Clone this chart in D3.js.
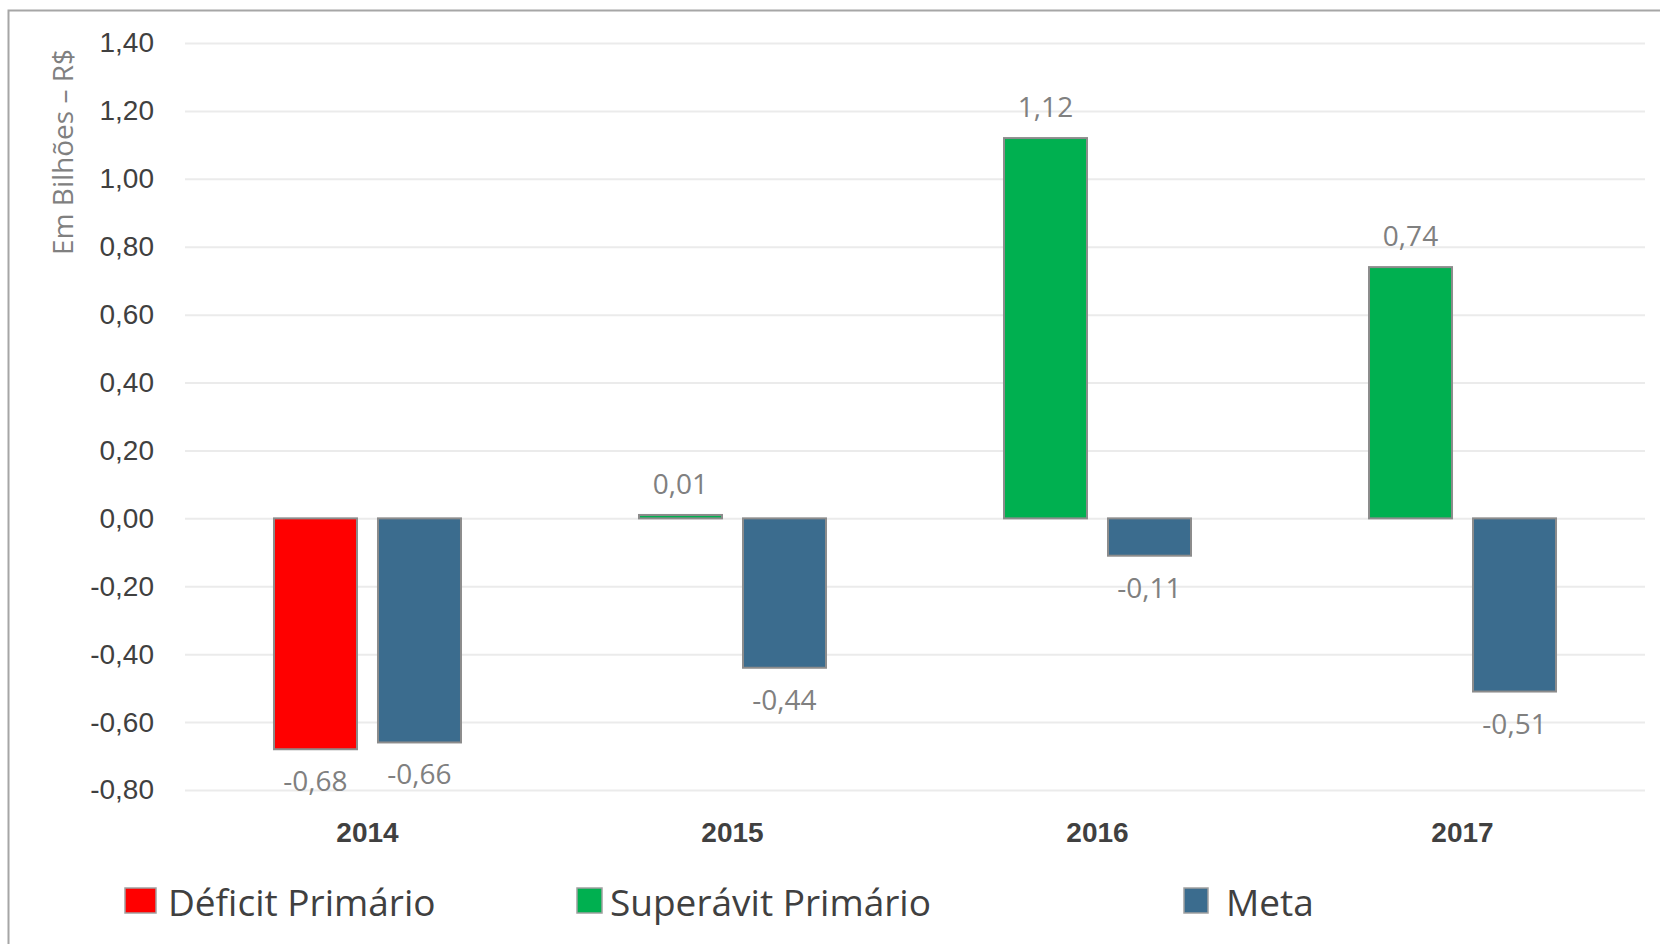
<!DOCTYPE html>
<html>
<head>
<meta charset="utf-8">
<script src="https://cdn.jsdelivr.net/npm/d3@7"></script>
<style>
  body { margin: 0; background: #fff; }
  svg { display: block; font-family: "Open Sans", sans-serif; }
</style>
</head>
<body>
<svg id="chart" width="1660" height="944"></svg>
<script>
// data
const years = ["2014", "2015", "2016", "2017"];
const deficit = [-0.68, null, null, null];
const superavit = [null, 0.01, 1.12, 0.74];
const meta = [-0.66, -0.44, -0.11, -0.51];
const yTicks = [-0.8, -0.6, -0.4, -0.2, 0, 0.2, 0.4, 0.6, 0.8, 1.0, 1.2, 1.4];
const legendLabels = ["Déficit Primário", "Superávit Primário", "Meta"];

const colors = { deficit: "#ff0000", superavit: "#00b050", meta: "#3b6c8e" };

const ptBR = d3.formatLocale({ decimal: ",", thousands: ".", grouping: [3], currency: ["R$", ""], minus: "-" });
const fmt = ptBR.format(".2f");

const svg = d3.select("svg#chart");

// chart frame
svg.append("rect")
  .attr("x", 8.5).attr("y", 10.5)
  .attr("width", 1700).attr("height", 1000)
  .attr("fill", "none")
  .attr("stroke", "#a6a6a6")
  .attr("stroke-width", 2);

const plot = { left: 185, right: 1645, top: 43, bottom: 790 };

const x = d3.scaleBand().domain(years).range([plot.left, plot.right])
  .paddingInner(0.4877).paddingOuter(0.2438);
const xs = d3.scaleBand().domain(["main", "meta"]).range([0, x.bandwidth()])
  .paddingInner(0.202);
const y = d3.scaleLinear().domain([-0.8, 1.4]).range([plot.bottom, plot.top]);

// y axis + gridlines
const yAxis = svg.append("g")
  .attr("transform", `translate(${plot.left},0)`)
  .call(d3.axisLeft(y).tickValues(yTicks).tickFormat(fmt)
    .tickSizeInner(-(plot.right - plot.left)).tickSizeOuter(0).tickPadding(31));
yAxis.select(".domain").remove();
yAxis.selectAll(".tick line").attr("stroke", "#ebebeb").attr("stroke-width", 2);
yAxis.selectAll(".tick text")
  .attr("fill", "#404040")
  .style("font-size", "28px");

svg.append("text")
  .attr("transform", "translate(73,152) rotate(-90)")
  .attr("text-anchor", "middle")
  .attr("fill", "#808080")
  .style("font-size", "28px")
  .text("Em Bilhões – R$");

// x axis (category labels)
const xAxis = svg.append("g")
  .attr("transform", `translate(0,${plot.bottom})`)
  .call(d3.axisBottom(x).tickSize(0));
xAxis.select(".domain").remove();
xAxis.selectAll(".tick text")
  .attr("dy", null)
  .attr("y", 52)
  .attr("fill", "#404040")
  .style("font-size", "28px")
  .style("font-weight", "bold");

// bars
const rows = [];
years.forEach((yr, i) => {
  if (deficit[i] != null) rows.push({ year: yr, slot: "main", value: deficit[i], color: colors.deficit });
  if (superavit[i] != null) rows.push({ year: yr, slot: "main", value: superavit[i], color: colors.superavit });
  rows.push({ year: yr, slot: "meta", value: meta[i], color: colors.meta });
});

svg.append("g").selectAll("rect")
  .data(rows)
  .join("rect")
  .attr("x", d => x(d.year) + xs(d.slot))
  .attr("y", d => y(Math.max(0, d.value)))
  .attr("width", xs.bandwidth())
  .attr("height", d => Math.abs(y(d.value) - y(0)))
  .attr("fill", d => d.color)
  .attr("stroke", "#8c8c8c")
  .attr("stroke-width", 2);

svg.append("g").selectAll("text")
  .data(rows)
  .join("text")
  .attr("x", d => x(d.year) + xs(d.slot) + xs.bandwidth() / 2)
  .attr("y", d => d.value >= 0 ? y(d.value) - 21 : y(d.value) + 42)
  .attr("text-anchor", "middle")
  .attr("fill", "#808080")
  .style("font-size", "28px")
  .text(d => fmt(d.value));

// legend
const legendItems = [
  { label: legendLabels[0], color: colors.deficit, x: 125, w: 31, tx: 168 },
  { label: legendLabels[1], color: colors.superavit, x: 577, w: 25, tx: 610 },
  { label: legendLabels[2], color: colors.meta, x: 1184, w: 24, tx: 1226 }
];
const legend = svg.append("g").selectAll("g")
  .data(legendItems)
  .join("g");
legend.append("rect")
  .attr("x", d => d.x).attr("y", 888)
  .attr("width", d => d.w).attr("height", 25)
  .attr("fill", d => d.color)
  .attr("stroke", "#a0a0a0")
  .attr("stroke-width", 1.5);
legend.append("text")
  .attr("x", d => d.tx).attr("y", 916)
  .attr("fill", "#404040")
  .style("font-size", "37px")
  .text(d => d.label);
</script>
</body>
</html>
